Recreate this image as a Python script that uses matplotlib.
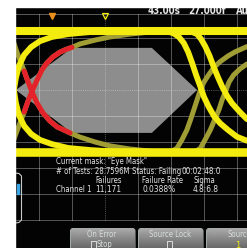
import matplotlib
matplotlib.use("Agg")
import matplotlib.pyplot as plt
from matplotlib.patches import Polygon, Rectangle, FancyBboxPatch
import numpy as np

# ---- data (scope divisions: x = time div, y = volt div, centre = 0,0) ----
rail_high = 2.27
rail_low = -2.38

mask_x = [-2.70, -1.00, 1.42, 2.79, 1.42, -1.00]
mask_y = [0.00, 1.62, 1.62, 0.00, -1.65, -1.65]

# most frequent edges (bright)
main_rise_x = [-2.76, -2.70, -2.61, -2.45, -2.24, -1.97, -1.61, -1.12, -0.45, 0.45]
main_rise_y = [0.00, 0.46, 0.92, 1.35, 1.65, 1.88, 2.04, 2.15, 2.23, 2.27]
main_fall_x = [-2.76, -2.70, -2.61, -2.45, -2.24, -1.97, -1.61, -1.12, -0.45, 0.45]
main_fall_y = [0.00, -0.50, -0.96, -1.38, -1.69, -1.92, -2.08, -2.23, -2.31, -2.38]

fall1_x = [1.67, 1.91, 2.09, 2.24, 2.39, 2.52, 2.64, 2.76, 2.89, 3.00, 3.14, 3.30, 3.49, 3.73, 4.00, 4.30]
fall1_y = [2.27, 2.25, 2.17, 2.04, 1.80, 1.46, 1.04, 0.58, 0.13, -0.27, -0.64, -1.00, -1.28, -1.54, -1.80, -1.95]
fall2_x = [2.42, 2.64, 2.79, 2.91, 3.04, 3.17, 3.29, 3.42, 3.55, 3.70, 3.85, 4.06, 4.30]
fall2_y = [2.27, 2.23, 2.15, 1.96, 1.67, 1.31, 0.90, 0.50, 0.13, -0.23, -0.51, -0.81, -1.12]

# less frequent edges (dim)
rise1_x = [1.82, 2.03, 2.18, 2.33, 2.48, 2.59, 2.69, 2.79, 2.89, 3.00, 3.14, 3.30, 3.49, 3.73, 3.95, 4.30]
rise1_y = [-2.38, -2.35, -2.24, -1.92, -1.54, -1.15, -0.77, -0.38, 0.00, 0.31, 0.58, 0.87, 1.09, 1.31, 1.47, 1.67]
rise2_x = [2.58, 2.76, 2.89, 3.03, 3.19, 3.32, 3.45, 3.55, 3.67, 3.76, 3.90, 4.09, 4.30]
rise2_y = [-2.38, -2.35, -2.24, -1.92, -1.54, -1.15, -0.77, -0.38, 0.00, 0.31, 0.58, 0.81, 1.00]

# late edges that hit the mask (failing part shown red)
late_fall_x = [-2.88, -2.79, -2.67, -2.45, -2.33, -2.21, -2.06, -1.88, -1.67, -1.45, -1.24, -1.06, -0.76, -0.30, 0.15, 0.76, 1.36]
late_fall_y = [2.27, 1.92, 1.46, 0.73, 0.31, -0.08, -0.50, -0.88, -1.19, -1.42, -1.54, -1.65, -1.81, -2.00, -2.15, -2.27, -2.35]
late_rise_x = [-2.88, -2.79, -2.67, -2.45, -2.33, -2.21, -2.06, -1.91, -1.76, -1.58, -1.36, -1.18, -1.00, -0.76, -0.30, 0.15, 0.76, 1.36]
late_rise_y = [-2.38, -2.00, -1.58, -0.85, -0.42, -0.04, 0.38, 0.77, 1.04, 1.27, 1.46, 1.56, 1.64, 1.77, 1.92, 2.04, 2.15, 2.23]
late_fall_fail = slice(3, 12)
late_rise_fail = slice(3, 13)

mask_name = "Eye Mask"
tests_total = "28.7596M"
status = "Failing"
elapsed = "00:02:48.0"
channel = "Channel 1"
failures = "11,171"
failure_rate = "0.0388%"
sigma = "4.8:6.8"
top_readouts = ["43.00s", "27.000f", "Au"]
softkeys = ["On Error", "Source Lock", "Source"]

YEL = "#f3ec0e"
OLIVE = "#a09d34"
RED = "#e3222b"
MASK = "#8d8d8d"
TXT = "#e4e4e4"
FONT = ["DejaVu Sans"]
STRETCH = "condensed"

W, H = 247, 248
fig = plt.figure(figsize=(W / 100, H / 100), dpi=100, facecolor="white")

# background layer (pixel coords)
bg = fig.add_axes([0, 0, 1, 1], zorder=0)
bg.set_xlim(0, W)
bg.set_ylim(H, 0)
bg.axis("off")
bg.add_patch(Rectangle((15, 7), W - 15, H - 7, color="#030303"))

# scope graticule layer (division coords: 33 px/div across, 26 px/div up)
ax = fig.add_axes([0, 0, 1, 1], zorder=1)
ax.set_xlim((0 - 105) / 33, (W - 105) / 33)
ax.set_ylim((90 - H) / 26, 90 / 26)
ax.axis("off")
ax.patch.set_alpha(0)

ax.add_patch(Polygon(np.column_stack([mask_x, mask_y]), closed=True,
                     facecolor=MASK, edgecolor="none", zorder=1))

grid_top, grid_bot = (90 - 14) / 26, -5
for gx in range(-2, 5):
    ls = (0, (1, 1.2)) if gx == 0 else "-"
    ax.plot([gx, gx], [grid_bot, grid_top], color="white", alpha=0.33, lw=0.7, ls=ls, zorder=2)
for gy in range(-5, 3):
    ls = (0, (1, 1.2)) if gy == 0 else "-"
    ax.plot([-3.2, 4.4], [gy, gy], color="white", alpha=0.33, lw=0.7, ls=ls, zorder=2)
ax.plot([-3.2, 4.4], [grid_top, grid_top], color="white", alpha=0.35, lw=0.7, zorder=2)

# dim traces
for xs, ys in [(rise1_x, rise1_y), (rise2_x, rise2_y),
               (late_fall_x, late_fall_y), (late_rise_x, late_rise_y)]:
    ax.plot(xs, ys, color=OLIVE, lw=3.6, solid_capstyle="round", zorder=3)
# failing samples
for xs, ys, sl in [(late_fall_x, late_fall_y, late_fall_fail),
                   (late_rise_x, late_rise_y, late_rise_fail)]:
    ax.plot(xs[sl], ys[sl], color=RED, lw=3.6, solid_capstyle="round", zorder=4)
# bright traces
for xs, ys in [(main_rise_x, main_rise_y), (main_fall_x, main_fall_y),
               (fall1_x, fall1_y), (fall2_x, fall2_y)]:
    ax.plot(xs, ys, color=YEL, lw=4.2, solid_capstyle="round", zorder=5)
ax.axhline(rail_high, color=YEL, lw=5.8, zorder=5)
ax.axhline(rail_low, color=YEL, lw=6.2, zorder=5)

# foreground UI layer (pixel coords)
ui = fig.add_axes([0, 0, 1, 1], zorder=2)
ui.set_xlim(0, W)
ui.set_ylim(H, 0)
ui.axis("off")
ui.patch.set_alpha(0)

# top readouts (cut by the frame)
for x0, s in zip([148, 188, 236], top_readouts):
    ui.text(x0, 13.8, s, color="#e8e8e8", fontsize=7, fontweight="bold",
            family=FONT, fontstretch=STRETCH, va="baseline", ha="left")
ui.plot([51.5], [16], marker="v", ms=4, color="#e8901a", mec="#e8901a")
ui.plot([105], [16], marker="v", ms=4.5, mfc="none", mec=YEL, mew=0.9)

# measurement readout
tk = dict(color=TXT, fontsize=5.6, family=FONT, fontstretch=STRETCH,
          va="center", ha="left")
ui.text(56, 161, 'Current mask: "%s"' % mask_name, **tk)
ui.text(56, 171.5, "# of Tests: %s" % tests_total, **tk)
ui.text(132, 171.5, "Status: %s" % status, **tk)
ui.text(181, 171.5, elapsed, **dict(tk, fontsize=5.9))
ui.text(95, 180.5, "Failures", **tk)
ui.text(142, 180.5, "Failure Rate", **tk)
ui.text(193, 180.5, "Sigma", **tk)
ui.text(56, 189.5, channel, **tk)
ui.text(95, 189.5, failures, **dict(tk, fontsize=6.0))
ui.text(142, 189.5, failure_rate, **dict(tk, fontsize=6.0))
ui.text(193, 189.5, sigma, **dict(tk, fontsize=6.0))

# side bracket with blue level bar
ui.plot([15, 19, 21.5, 21.5, 19, 15], [173, 173.5, 176, 220, 222.5, 223],
        color="#c8c8c8", lw=0.8)
ui.add_patch(Rectangle((16.5, 184), 2.8, 10, color="#3aa6e8"))

# softkeys
grad = np.linspace(0, 1, 40).reshape(-1, 1)
bk = dict(color="#d8dcdc", fontsize=5.6, family=FONT, fontstretch=STRETCH,
          va="center", zorder=3)
for (x0, x1), label in zip([(70.5, 135), (138.5, 203), (206.5, 260)], softkeys):
    box = FancyBboxPatch((x0, 228.5), x1 - x0, 30,
                         boxstyle="round,pad=0,rounding_size=2.5",
                         facecolor="none", edgecolor="#a8b0b0", lw=0.7)
    ui.add_patch(box)
    im = ui.imshow(grad, extent=(x0, x1, 258, 228.5), cmap="Greys",
                   vmin=-1.2, vmax=1.6, aspect="auto", zorder=1)
    im.set_clip_path(box)
    if label == "Source Lock":
        ui.text(170, 234.5, label, ha="center", **bk)
        ui.add_patch(Rectangle((167, 240.5), 5, 9, fill=False, ec="#d8dcdc", lw=0.7, zorder=3))
    elif label == "On Error":
        ui.text(102, 234.5, label, ha="center", **bk)
        ui.add_patch(Rectangle((91, 240.5), 4.5, 9, fill=False, ec="#d8dcdc", lw=0.7, zorder=3))
        ui.text(96.5, 244.5, "Stop", ha="left", **bk)
        ui.text(77, 233, "\u21bb", color="#9aa0a0", fontsize=5, ha="center", va="center", zorder=3)
    else:
        ui.text(227, 234.5, label, ha="left", **bk)
        ui.text(214, 233, "\u21bb", color="#9aa0a0", fontsize=5, ha="center", va="center", zorder=3)
        ui.text(238, 245, "1", color=YEL, fontsize=6, family=FONT,
                ha="center", va="center", zorder=3)

# white frame outside the screen
ui.add_patch(Rectangle((0, 0), W, 7, color="white", zorder=10))
ui.add_patch(Rectangle((0, 0), 15, H, color="white", zorder=10))

fig.savefig("out.png", dpi=100, facecolor="white")
